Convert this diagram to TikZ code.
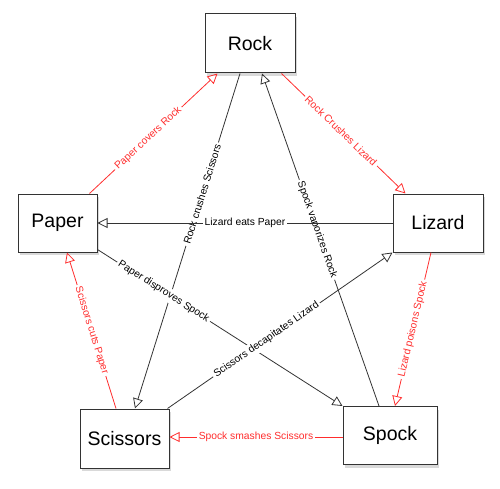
\documentclass[tikz,border=0pt]{standalone}
\usepackage{fontspec}
\setmainfont{Liberation Sans}
\usepackage{tikz}
\usepackage{xcolor}
\definecolor{losered}{RGB}{255,45,45}
\definecolor{edgegray}{RGB}{51,51,51}
\tikzset{hand/.style={draw=black!80, line width=1pt, fill=white, inner sep=0pt,
   drop shadow={opacity=0.3, shadow xshift=2pt, shadow yshift=-3pt},
   font=\fontsize{19.5}{22}\selectfont},
 beats/.style={draw=edgegray, line width=0.8pt, -{Triangle[open,length=10pt,width=10pt]}},
 redbeats/.style={beats, draw=losered},
 verb/.style={fill=white, inner sep=2pt, sloped, font=\fontsize{10.3}{12}\selectfont},
 redverb/.style={verb, text=losered},
 }
\usetikzlibrary{arrows.meta}
\usetikzlibrary{shadows}

\begin{document}
\begin{tikzpicture}[x=1pt, y=-1pt]
        \useasboundingbox (0,0) rectangle (500,489);
        \node[hand, minimum width=90pt, minimum height=59pt] (rock) at (250, 43.5) {Rock};
        \node[hand, minimum width=79pt, minimum height=58pt] (paper) at (57.5, 223) {Paper};
        \node[hand, minimum width=90pt, minimum height=58pt] (lizard) at (438, 223) {Lizard};
        \node[hand, minimum width=89pt, minimum height=59pt] (scissors) at (124.5, 438.5) {Scissors};
        \node[hand, minimum width=94pt, minimum height=58pt] (spock) at (390, 435.5) {Spock};
        \draw[redbeats] ([xshift=-8pt]paper.north east) -- node[redverb, pos=0.46] {Paper covers Rock} ([xshift=13pt]rock.south west);
        \draw[redbeats] ([xshift=-14pt]rock.south east) -- node[redverb, pos=0.48] {Rock Crushes Lizard} ([xshift=13pt]lizard.north west);
        \draw[beats] ([xshift=-10pt]rock.south) -- node[verb, pos=0.36] {Rock crushes Scissors} ([xshift=10.5pt]scissors.north);
        \draw[beats] ([xshift=-11pt]spock.north) -- node[verb, pos=0.53] {Spock vaporizes Rock} ([xshift=12pt]rock.south);
        \draw[beats] (lizard.west) -- node[verb] {Lizard eats Paper} (paper.east);
        \draw[beats] ([yshift=3pt]paper.south east) -- node[verb, pos=0.27] {Paper disproves Spock} (spock.north west);
        \draw[beats] ([xshift=-2pt]scissors.north east) -- node[verb, pos=0.44] {Scissors decapitates Lizard} (lizard.south west);
        \draw[redbeats] ([xshift=-7pt]lizard.south) -- node[redverb] {Lizard poisons Spock} ([xshift=5pt]spock.north);
        \draw[redbeats] ([xshift=-8.5pt]scissors.north) -- node[redverb] {Scissors cuts Paper} ([xshift=9.5pt]paper.south);
        \draw[redbeats] ([yshift=-1.5pt]spock.west) -- node[redverb] {Spock smashes Scissors} ([yshift=1.5pt]scissors.east);
    \end{tikzpicture}
\end{document}
